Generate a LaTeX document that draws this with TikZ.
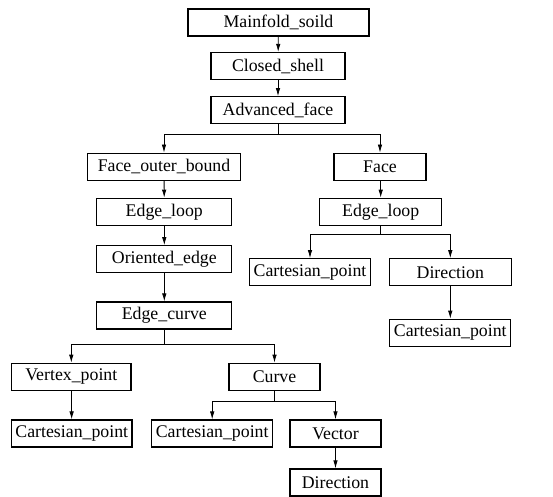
\documentclass[tikz,border=0pt]{standalone}
\usepackage{fontspec}
\setmainfont{Liberation Serif}
\usetikzlibrary{arrows.meta}
\begin{document}
\begin{tikzpicture}[x=1pt,y=-1pt,
  entity/.style={draw, line width=1.3pt, inner sep=0pt, minimum height=27pt,
    font=\fontsize{17.8}{20}\selectfont, anchor=center},
  link/.style={line width=0.8pt, -{Latex[length=8pt,width=4.5pt]}},
  plain/.style={line width=0.8pt}]
\useasboundingbox (0,0) rectangle (553,496);
% top chain
\node[entity, minimum width=181pt] (ms)  at (278.5,22.5) {Mainfold\_soild};
\node[entity, minimum width=134pt] (cs)  at (278,66)     {Closed\_shell};
\node[entity, minimum width=134pt] (af)  at (278,110.3)  {Advanced\_face};
% left branch
\node[entity, minimum width=153.4pt] (fob) at (164,166.7) {Face\_outer\_bound};
\node[entity, minimum width=135pt] (el1) at (164.3,211.8) {Edge\_loop};
\node[entity, minimum width=135pt] (oe)  at (164.3,259.3) {Oriented\_edge};
\node[entity, minimum width=135pt] (ec)  at (164.3,315.5) {Edge\_curve};
\node[entity, minimum width=119.3pt] (vp) at (71.3,376.8) {Vertex\_point};
\node[entity, minimum width=91pt] (cv)   at (274.5,376.8) {Curve};
\node[entity, minimum width=120.3pt] (cp3) at (71.8,433.5) {Cartesian\_point};
\node[entity, minimum width=121pt] (cp4) at (212.2,433.5) {Cartesian\_point};
\node[entity, minimum width=91pt] (vec)  at (335.5,433.5) {Vector};
\node[entity, minimum width=91pt] (dir2) at (335.5,482.5) {Direction};
% right branch
\node[entity, minimum width=92pt] (face) at (380,166.7) {Face};
\node[entity, minimum width=122pt] (el2) at (380.7,211.8) {Edge\_loop};
\node[entity, minimum width=121.4pt] (cp1) at (310,272.3) {Cartesian\_point};
\node[entity, minimum width=122pt] (dir1) at (450.3,272.3) {Direction};
\node[entity, minimum width=121pt] (cp2) at (450.3,332.8) {Cartesian\_point};
% branching junctions
\coordinate (j1) at (278,134.7);
\coordinate (j2) at (380.7,234);
\coordinate (j3) at (164.3,344.7);
\coordinate (j4) at (274.5,401.3);
% straight links
\draw[link] (ms) -- (cs);
\draw[link] (cs) -- (af);
\draw[link] (fob) -- (el1);
\draw[link] (face.south -| el2.north) -- (el2);
\draw[link] (el1) -- (oe);
\draw[link] (oe) -- (ec);
\draw[link] (vp) -- (cp3);
\draw[link] (dir1) -- (cp2);
\draw[link] (vec) -- (dir2);
% forked links
\draw[plain] (af.south) -- (j1);
\draw[link] (j1) -| (fob.north);
\draw[link] (j1) -| (face.north);
\draw[plain] (el2.south) -- (j2);
\draw[link] (j2) -| (cp1.north);
\draw[link] (j2) -| (dir1.north);
\draw[plain] (ec.south) -- (j3);
\draw[link] (j3) -| (vp.north);
\draw[link] (j3) -| (cv.north);
\draw[plain] (cv.south) -- (j4);
\draw[link] (j4) -| (cp4.north);
\draw[link] (j4) -| (vec.north);
\end{tikzpicture}
\end{document}
